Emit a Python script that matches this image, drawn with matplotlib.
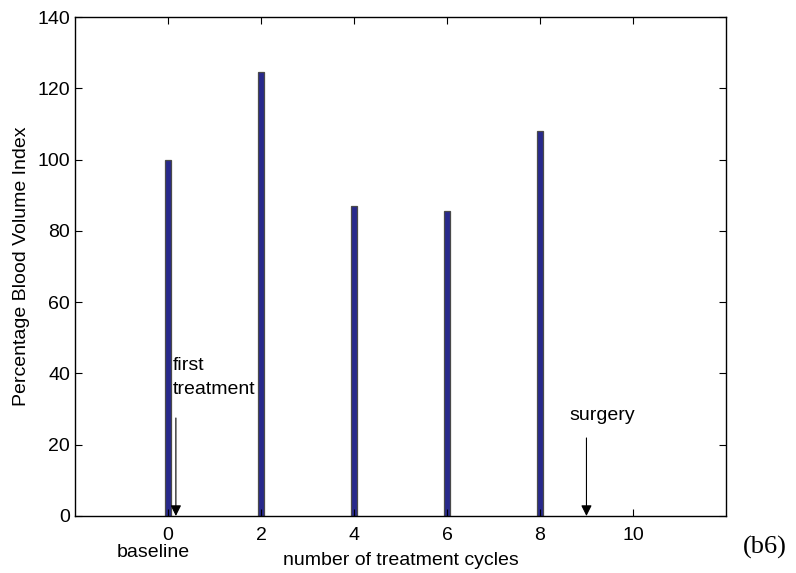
import numpy as np
import matplotlib
matplotlib.use("Agg")
import matplotlib.pyplot as plt

plt.rcParams['font.family'] = ['Liberation Sans', 'DejaVu Sans']

# data
cycles = [0, 2, 4, 6, 8]
bvi = [100.0, 124.7, 86.9, 85.7, 108.1]
xticks = [0, 2, 4, 6, 8, 10]
yticks = [0, 20, 40, 60, 80, 100, 120, 140]

# event markers (x position, arrow start height, label)
first_x, first_top = 0.17, 27.5
surgery_x, surgery_top = 9.0, 21.9

fs = 14

fig = plt.figure(figsize=(7.96, 5.73), dpi=100)
ax = fig.add_axes([0.0942, 0.0995, 0.912 - 0.0942, 0.970 - 0.0995])

ax.bar(cycles, bvi, width=0.14, color='#28298c', edgecolor='#4a4a4a', linewidth=0.9)

ax.set_xlim(-2, 12)
ax.set_ylim(0, 140)
ax.set_xticks(xticks)
ax.set_yticks(yticks)
ax.tick_params(direction='in', top=True, right=True, length=5, width=0.8, labelsize=fs)
ax.tick_params(axis='x', pad=8)
for s in ax.spines.values():
    s.set_linewidth(1.0)

ax.set_xlabel('number of treatment cycles', fontsize=fs, labelpad=6)
ax.set_ylabel('Percentage Blood Volume Index', fontsize=fs, labelpad=5)

########## annotations ##########
arrow = dict(arrowstyle='-|>', color='black', lw=0.8, mutation_scale=16,
             shrinkA=0, shrinkB=0)
ax.annotate('', xy=(first_x, 0), xytext=(first_x, first_top), arrowprops=arrow)
ax.annotate('', xy=(surgery_x, 0), xytext=(surgery_x, surgery_top), arrowprops=arrow)

ax.text(0.1, 44.6, 'first\ntreatment', fontsize=fs, va='top', ha='left', linespacing=1.5)
ax.text(8.64, 28.3, 'surgery', fontsize=fs, va='center', ha='left')

ax.annotate('baseline', xy=(-0.32, 0), xycoords='data', xytext=(0, -32.5),
            textcoords='offset points', ha='center', va='bottom', fontsize=fs,
            annotation_clip=False)

fig.text(0.961, 0.044, '(b6)', family='Liberation Serif', fontsize=19,
         ha='center', va='center')

fig.savefig('out.png', dpi=100)
